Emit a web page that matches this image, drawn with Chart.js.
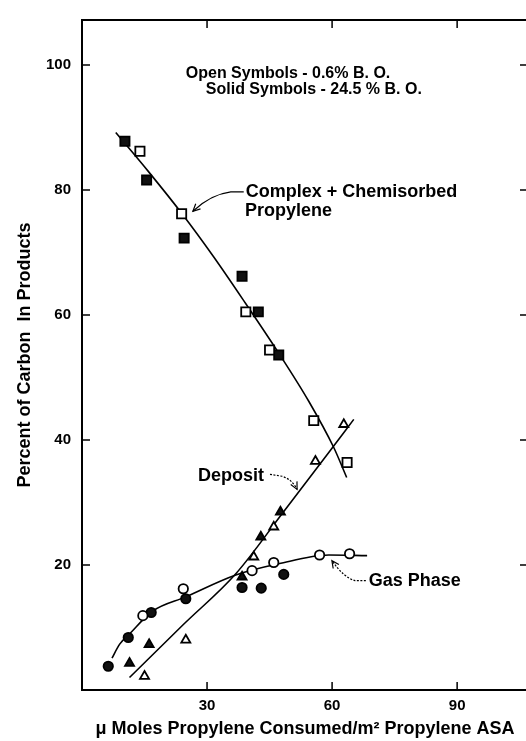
<!DOCTYPE html>
<html>
<head>
<meta charset="utf-8">
<script src="https://cdn.jsdelivr.net/npm/chart.js@4.4.0/dist/chart.umd.min.js"></script>
<style>
html, body { margin: 0; padding: 0; background: #fff; overflow: hidden; }
#wrap { width: 526px; height: 741px; overflow: hidden; }
</style>
</head>
<body>
<div id="wrap"><canvas id="myChart" width="540" height="741"></canvas></div>
<script>
// values (x = umol consumed / m2, y = % of carbon)
var complexOpenX = [13.9, 23.9, 39.3, 45.0, 55.6, 63.6];
var complexOpenY = [86.2, 76.2, 60.5, 54.4, 43.1, 36.4];
var complexSolidX = [10.3, 15.5, 24.5, 38.4, 42.3, 47.2];
var complexSolidY = [87.8, 81.6, 72.3, 66.2, 60.5, 53.6];

var depositOpenX = [15.0, 24.9, 41.2, 46.0, 56.0, 62.8];
var depositOpenY = [2.2, 8.0, 21.3, 26.1, 36.6, 42.5];
var depositSolidX = [11.4, 16.1, 38.4, 42.9, 47.6];
var depositSolidY = [4.3, 7.3, 18.1, 24.5, 28.5];

var gasOpenX = [14.6, 24.3, 40.8, 46.0, 57.0, 64.2];
var gasOpenY = [11.9, 16.2, 19.1, 20.4, 21.6, 21.8];
var gasSolidX = [6.3, 11.1, 16.6, 24.9, 38.4, 43.0, 48.4];
var gasSolidY = [3.8, 8.4, 12.4, 14.6, 16.4, 16.3, 18.5];

// hand-drawn fit curves
var complexFitX = [8.1, 16.0, 24.0, 31.7, 39.3, 47.0, 54.4, 60.4, 63.5];
var complexFitY = [89.2, 82.9, 76.2, 69.2, 61.8, 54.1, 46.2, 38.8, 34.0];
var depositFitX = [11.4, 24.2, 36.9, 48.0, 59.2, 65.2];
var depositFitY = [2.0, 10.4, 18.6, 28.2, 38.0, 43.3];
var gasFitX = [7.2, 9.0, 11.3, 16.9, 24.9, 36.9, 47.2, 59.2, 68.4];
var gasFitY = [5.1, 7.3, 8.9, 12.6, 14.9, 18.4, 20.2, 21.6, 21.5];

var xTicks = [30, 60, 90];
var yTicks = [20, 40, 60, 80, 100];

var xTitle = '\u03bc Moles Propylene Consumed/m\u00b2 Propylene ASA';
var yTitle = 'Percent of Carbon  In Products';

function pts(xs, ys) {
    return xs.map(function (x, i) { return {x: x, y: ys[i]}; });
}

var FONT = '"Liberation Sans", Arial, sans-serif';

function marks(xs, ys, style, solid, r) {
    return {
        data: pts(xs, ys),
        pointStyle: style,
        pointRadius: r,
        pointHoverRadius: r,
        backgroundColor: solid ? '#111' : '#fff',
        borderColor: '#000',
        borderWidth: 1.8,
        showLine: false
    };
}

function curve(xs, ys) {
    return {
        data: pts(xs, ys),
        showLine: true,
        pointRadius: 0,
        borderColor: '#000',
        borderWidth: 1.6,
        cubicInterpolationMode: 'monotone',
        fill: false
    };
}

var notes = [
    {text: 'Open Symbols - 0.6% B. O.', x: 24.9, y: 98.7, size: 16},
    {text: 'Solid Symbols - 24.5 % B. O.', x: 29.7, y: 96.0, size: 16},
    {text: 'Complex + Chemisorbed', x: 39.3, y: 79.7, size: 18},
    {text: 'Propylene', x: 39.1, y: 76.6, size: 18},
    {text: 'Deposit', x: 27.8, y: 34.3, size: 18},
    {text: 'Gas Phase', x: 68.8, y: 17.5, size: 18}
];

var leaders = [
    {p: [[38.8, 79.7], [35.7, 79.7], [30.9, 79.3], [26.6, 76.6]], dash: []},
    {p: [[45.1, 34.5], [48.0, 34.2], [50.4, 33.7], [51.6, 32.1]], dash: [2, 1.5]},
    {p: [[68.1, 17.5], [65.5, 17.5], [62.8, 18.0], [59.95, 20.7]], dash: [2, 1.5]}
];

var frame = {
    id: 'frame',
    beforeDatasetsDraw: function (chart) {
        var ctx = chart.ctx, a = chart.chartArea;
        var sx = chart.scales.x, sy = chart.scales.y;
        ctx.save();
        ctx.strokeStyle = '#000';
        ctx.lineWidth = 2;
        ctx.strokeRect(a.left, a.top, a.right - a.left, a.bottom - a.top);
        ctx.lineWidth = 1.5;
        ctx.beginPath();
        xTicks.forEach(function (v) {
            var px = sx.getPixelForValue(v);
            ctx.moveTo(px, a.bottom); ctx.lineTo(px, a.bottom - 8);
            ctx.moveTo(px, a.top); ctx.lineTo(px, a.top + 8);
        });
        yTicks.forEach(function (v) {
            var py = sy.getPixelForValue(v);
            ctx.moveTo(a.left, py); ctx.lineTo(a.left + 8, py);
            ctx.moveTo(a.right, py); ctx.lineTo(a.right - 8, py);
        });
        ctx.stroke();
        ctx.restore();
    },
    afterDatasetsDraw: function (chart) {
        var ctx = chart.ctx;
        var sx = chart.scales.x, sy = chart.scales.y;
        function P(q) { return [sx.getPixelForValue(q[0]), sy.getPixelForValue(q[1])]; }
        ctx.save();
        ctx.fillStyle = '#000';
        ctx.textAlign = 'left';
        ctx.textBaseline = 'middle';
        notes.forEach(function (n) {
            ctx.font = 'bold ' + n.size + 'px ' + FONT;
            ctx.fillText(n.text, sx.getPixelForValue(n.x), sy.getPixelForValue(n.y));
        });
        ctx.strokeStyle = '#000';
        ctx.lineWidth = 1.2;
        leaders.forEach(function (l) {
            var a = P(l.p[0]), b = P(l.p[1]), c = P(l.p[2]), t = P(l.p[3]);
            ctx.setLineDash(l.dash);
            ctx.beginPath();
            ctx.moveTo(a[0], a[1]);
            ctx.lineTo(b[0], b[1]);
            ctx.quadraticCurveTo(c[0], c[1], t[0], t[1]);
            ctx.stroke();
            ctx.setLineDash([]);
            var ang = Math.atan2(c[1] - t[1], c[0] - t[0]);
            ctx.beginPath();
            ctx.moveTo(t[0] + 8 * Math.cos(ang + 0.45), t[1] + 8 * Math.sin(ang + 0.45));
            ctx.lineTo(t[0], t[1]);
            ctx.lineTo(t[0] + 8 * Math.cos(ang - 0.45), t[1] + 8 * Math.sin(ang - 0.45));
            ctx.stroke();
        });
        ctx.restore();
    }
};

var ctx = document.getElementById('myChart').getContext('2d');
var myChart = new Chart(ctx, {
    type: 'scatter',
    data: {
        datasets: [
            marks(complexOpenX, complexOpenY, 'rect', false, 6.5),
            marks(complexSolidX, complexSolidY, 'rect', true, 6.5),
            marks(depositOpenX, depositOpenY, 'triangle', false, 5.2),
            marks(depositSolidX, depositSolidY, 'triangle', true, 5.2),
            marks(gasOpenX, gasOpenY, 'circle', false, 4.7),
            marks(gasSolidX, gasSolidY, 'circle', true, 4.7),
            curve(complexFitX, complexFitY),
            curve(depositFitX, depositFitY),
            curve(gasFitX, gasFitY)
        ]
    },
    options: {
        responsive: false,
        animation: false,
        devicePixelRatio: 1,
        layout: {padding: {top: 15, right: 12, left: 0, bottom: 0}},
        plugins: {legend: {display: false}, tooltip: {enabled: false}},
        scales: {
            x: {
                type: 'linear',
                min: 0,
                max: 107,
                afterFit: function (s) { s.height = 51; },
                afterBuildTicks: function (s) { s.ticks = xTicks.map(function (v) { return {value: v}; }); },
                grid: {display: false, drawTicks: false},
                border: {display: false},
                ticks: {color: '#000', padding: 7, maxRotation: 0, font: {family: FONT, size: 15, weight: 'bold'}},
                title: {display: true, text: xTitle, color: '#000', padding: {top: 0, bottom: 1},
                        font: {family: FONT, size: 18, weight: 'bold'}}
            },
            y: {
                type: 'linear',
                min: 0,
                max: 107.2,
                afterFit: function (s) { s.width = 82; },
                afterBuildTicks: function (s) { s.ticks = yTicks.map(function (v) { return {value: v}; }); },
                grid: {display: false, drawTicks: false},
                border: {display: false},
                ticks: {color: '#000', padding: 11, font: {family: FONT, size: 15, weight: 'bold'}},
                title: {display: true, text: yTitle, color: '#000', padding: {top: 14, bottom: 0},
                        font: {family: FONT, size: 18, weight: 'bold'}}
            }
        }
    },
    plugins: [frame]
});
</script>
</body>
</html>
